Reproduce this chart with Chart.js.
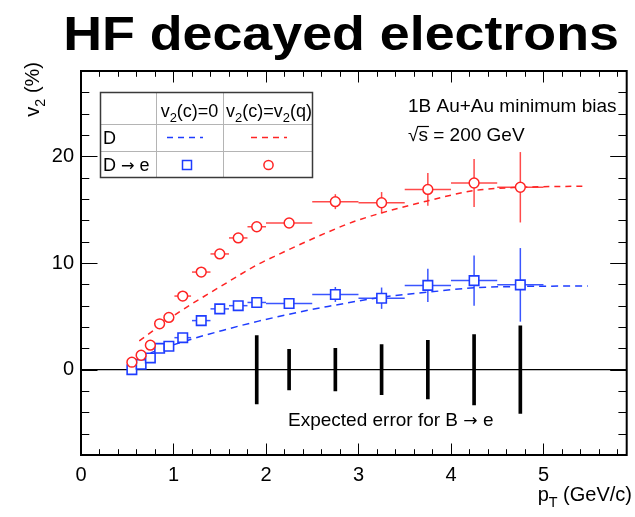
<!DOCTYPE html>
<html>
<head>
<meta charset="utf-8">
<script src="https://cdn.jsdelivr.net/npm/chart.js@4/dist/chart.umd.min.js"></script>
<style>
  html, body { margin: 0; padding: 0; background: #fff; }
  canvas { display: block; }
</style>
</head>
<body>
<canvas id="grafico" width="635" height="517"></canvas>
<script>
// pT bins (GeV/c) and their half widths
const ptPoints = [0.55, 0.65, 0.75, 0.85, 0.95, 1.1, 1.3, 1.5, 1.7, 1.9, 2.25, 2.75, 3.25, 3.75, 4.25, 4.75];
const ptErr = [0.05, 0.05, 0.05, 0.05, 0.05, 0.09, 0.1, 0.1, 0.1, 0.1, 0.25, 0.25, 0.25, 0.25, 0.25, 0.25];

// D -> e, v2(c)=0  (%)
const v2Zero = [0.0, 0.5, 1.1, 2.0, 2.2, 3.0, 4.6, 5.7, 6.0, 6.3, 6.2, 7.05, 6.7, 7.9, 8.35, 7.95];
const v2ZeroErr = [0.2, 0.2, 0.2, 0.2, 0.2, 0.2, 0.3, 0.3, 0.3, 0.35, 0.4, 0.7, 1.0, 1.55, 2.35, 3.45];

// D -> e, v2(c)=v2(q)  (%)
const v2Quark = [0.7, 1.35, 2.3, 4.3, 4.9, 6.9, 9.15, 10.85, 12.35, 13.4, 13.75, 15.75, 15.65, 16.9, 17.5, 17.1];
const v2QuarkErr = [0.2, 0.2, 0.2, 0.2, 0.2, 0.2, 0.3, 0.3, 0.3, 0.35, 0.4, 0.7, 1.0, 1.53, 2.26, 3.3];

// D curves (dashed)
const curveZeroX = [0.63, 1.06, 1.53, 1.92, 2.47, 2.67, 3.26, 3.76, 4.26, 4.76, 5.48];
const curveZeroY = [1.2, 2.5, 3.68, 4.55, 5.6, 5.93, 6.8, 7.27, 7.68, 7.8, 7.85];
const curveQuarkX = [0.63, 1.06, 1.28, 1.49, 1.92, 2.135, 2.67, 2.99, 3.76, 4.26, 4.76, 5.46];
const curveQuarkY = [2.7, 5.4, 6.6, 7.7, 9.9, 10.8, 12.9, 14.0, 15.85, 16.8, 17.1, 17.2];

// Expected error for B -> e (half size, around 0)
const bErrX = [1.9, 2.25, 2.75, 3.25, 3.75, 4.25, 4.75];
const bErrY = [3.2, 1.9, 2.0, 2.35, 2.75, 3.3, 4.1];

const xTicks = [0, 1, 2, 3, 4, 5];
const yTicks = [0, 10, 20];

const FONT = '"Liberation Sans", Arial, Helvetica, sans-serif';
const ARROW_FONT = '"DejaVu Sans", sans-serif';
const BLUE = '#1e3cff';
const RED = '#ff2424';

// text with subscripts: parts = [[text, isSub, font?], ...]
function richText(ctx, parts, x, y, size, align) {
    const fontOf = p => (p[1] ? size * 0.72 : (p[2] ? size * 0.9 : size)) + 'px ' + (p[2] || FONT);
    const widths = parts.map(p => {
        ctx.font = fontOf(p);
        return ctx.measureText(p[0]).width;
    });
    const total = widths.reduce((a, b) => a + b, 0);
    let cx = align === 'center' ? x - total / 2 : (align === 'right' ? x - total : x);
    ctx.textAlign = 'left';
    ctx.textBaseline = 'alphabetic';
    parts.forEach((p, i) => {
        ctx.font = fontOf(p);
        ctx.fillText(p[0], cx, p[1] ? y + size * 0.28 : y);
        cx += widths[i];
    });
}

function line(ctx, x0, y0, x1, y1) {
    ctx.beginPath();
    ctx.moveTo(x0, y0);
    ctx.lineTo(x1, y1);
    ctx.stroke();
}

const errorBars = {
    id: 'errorBars',
    beforeDatasetsDraw(chart) {
        const ctx = chart.ctx;
        const xs = chart.scales.x;
        const ys = chart.scales.y;
        ctx.save();
        // zero line
        ctx.strokeStyle = '#000';
        ctx.lineWidth = 1.2;
        line(ctx, chart.chartArea.left, ys.getPixelForValue(0), chart.chartArea.right, ys.getPixelForValue(0));
        chart.data.datasets.forEach(ds => {
            if (!ds.errY) return;
            ctx.strokeStyle = ds.errColor;
            ctx.lineWidth = 1.5;
            ds.data.forEach((p, i) => {
                const px = xs.getPixelForValue(p.x);
                const py = ys.getPixelForValue(p.y);
                line(ctx, xs.getPixelForValue(p.x - ds.errX[i]), py, xs.getPixelForValue(p.x + ds.errX[i]), py);
                line(ctx, px, ys.getPixelForValue(p.y - ds.errY[i]), px, ys.getPixelForValue(p.y + ds.errY[i]));
            });
        });
        ctx.restore();
    }
};

const decorations = {
    id: 'decorations',
    afterDraw(chart) {
        const ctx = chart.ctx;
        const xs = chart.scales.x;
        const ys = chart.scales.y;
        const { left, right, top, bottom } = chart.chartArea;
        ctx.save();

        // ticks on all four sides, pointing inwards
        ctx.strokeStyle = '#000';
        ctx.lineWidth = 1;
        for (let i = 0; i <= 29; i++) {
            const px = Math.round(xs.getPixelForValue(i * 0.2)) + 0.5;
            const len = i % 5 === 0 ? 11.5 : 5.8;
            line(ctx, px, bottom, px, bottom - len);
            line(ctx, px, top, px, top + len);
        }
        for (let v = -8; v <= 28; v += 2) {
            const py = Math.round(ys.getPixelForValue(v)) + 0.5;
            const len = v % 10 === 0 ? 16.5 : 8.3;
            line(ctx, left, py, left + len, py);
            line(ctx, right, py, right - len, py);
        }
        ctx.lineWidth = 2;
        ctx.strokeRect(left, top, right - left, bottom - top);

        ctx.fillStyle = '#000';
        // title
        ctx.save();
        ctx.font = 'bold 48px ' + FONT;
        ctx.textAlign = 'center';
        ctx.textBaseline = 'alphabetic';
        ctx.translate(341, 50);
        ctx.scale(1.12, 1);
        ctx.fillText('HF decayed electrons', 0, 0);
        ctx.restore();

        // axis titles
        richText(ctx, [['p', false], ['T', true], [' (GeV/c)', false]], 632, 501, 20, 'right');
        ctx.save();
        ctx.translate(39, 62);
        ctx.rotate(-Math.PI / 2);
        richText(ctx, [['v', false], ['2', true], [' (%)', false]], 0, 0, 20, 'right');
        ctx.restore();

        // labels inside the frame
        richText(ctx, [['1B Au+Au minimum bias', false]], 408, 112, 19, 'left');
        ctx.font = '19px ' + FONT;
        ctx.textAlign = 'left';
        ctx.fillText('\u221A', 408, 141);
        const wr = ctx.measureText('\u221A').width;
        ctx.fillText('s = 200 GeV', 408 + wr, 141);
        const ws = ctx.measureText('s').width;
        ctx.lineWidth = 1.2;
        line(ctx, 408 + wr - 1, 126.5, 408 + wr + ws + 1, 126.5);
        richText(ctx, [['Expected error for B ', false], ['\u2192', false, ARROW_FONT], [' e', false]], 288, 426, 19, 'left');

        // legend table
        const L = 100, R = 313, T = 92, B = 178;
        const c1 = 156, c2 = 223, r1 = 124, r2 = 151;
        ctx.fillStyle = '#fff';
        ctx.fillRect(L, T, R - L, B - T);
        ctx.strokeStyle = '#b4b4b4';
        ctx.lineWidth = 1;
        line(ctx, c1 + 0.5, T, c1 + 0.5, B);
        line(ctx, c2 + 0.5, T, c2 + 0.5, B);
        line(ctx, L, r1 + 0.5, R, r1 + 0.5);
        line(ctx, L, r2 + 0.5, R, r2 + 0.5);
        ctx.strokeStyle = '#3a3a3a';
        ctx.lineWidth = 1.5;
        ctx.strokeRect(L + 0.5, T + 0.5, R - L - 1, B - T - 1);

        ctx.fillStyle = '#000';
        richText(ctx, [['v', false], ['2', true], ['(c)=0', false]], (c1 + c2) / 2, 117, 18, 'center');
        richText(ctx, [['v', false], ['2', true], ['(c)=v', false], ['2', true], ['(q)', false]], (c2 + R) / 2 + 1, 117, 18, 'center');
        richText(ctx, [['D', false]], 103, 144, 18, 'left');
        richText(ctx, [['D ', false], ['\u2192', false, ARROW_FONT], [' e', false]], 103, 171, 18, 'left');

        ctx.lineWidth = 1.5;
        ctx.setLineDash([6, 5]);
        ctx.strokeStyle = BLUE;
        line(ctx, 167, 137.5, 203, 137.5);
        ctx.strokeStyle = RED;
        line(ctx, 251, 137.5, 287, 137.5);
        ctx.setLineDash([]);
        ctx.strokeStyle = BLUE;
        ctx.strokeRect(182.5, 160.5, 9, 9);
        ctx.strokeStyle = RED;
        ctx.beginPath();
        ctx.arc(268.5, 165, 4.6, 0, Math.PI * 2);
        ctx.stroke();

        ctx.restore();
    }
};

const ctx = document.getElementById('grafico').getContext('2d');

const chart = new Chart(ctx, {
    type: 'scatter',
    data: {
        datasets: [
            {
                type: 'line',
                data: curveZeroX.map((x, i) => ({ x: x, y: curveZeroY[i] })),
                borderColor: BLUE,
                borderWidth: 1.5,
                borderDash: [7, 5],
                pointRadius: 0,
                fill: false,
                cubicInterpolationMode: 'monotone',
                order: 5
            },
            {
                type: 'line',
                data: curveQuarkX.map((x, i) => ({ x: x, y: curveQuarkY[i] })),
                borderColor: RED,
                borderWidth: 1.5,
                borderDash: [6, 5],
                pointRadius: 0,
                fill: false,
                cubicInterpolationMode: 'monotone',
                order: 6
            },
            {
                type: 'bar',
                data: bErrX.map((x, i) => ({ x: x, y: [-bErrY[i], bErrY[i]] })),
                backgroundColor: '#000',
                borderWidth: 0,
                barThickness: 3,
                order: 4
            },
            {
                data: ptPoints.map((x, i) => ({ x: x, y: v2Zero[i] })),
                pointStyle: 'rect',
                pointRadius: 6.7,
                pointHoverRadius: 6.7,
                pointBorderWidth: 1.6,
                pointBorderColor: BLUE,
                pointBackgroundColor: '#fff',
                borderColor: BLUE,
                errColor: '#3a55ff',
                errX: ptErr,
                errY: v2ZeroErr,
                order: 2
            },
            {
                data: ptPoints.map((x, i) => ({ x: x, y: v2Quark[i] })),
                pointStyle: 'circle',
                pointRadius: 4.9,
                pointHoverRadius: 4.9,
                pointBorderWidth: 1.5,
                pointBorderColor: RED,
                pointBackgroundColor: '#fff',
                borderColor: RED,
                errColor: '#ff4a4a',
                errX: ptErr,
                errY: v2QuarkErr,
                order: 1
            }
        ]
    },
    options: {
        responsive: false,
        animation: false,
        events: [],
        layout: {
            padding: { top: 71, right: 3, left: 0, bottom: 0 }
        },
        scales: {
            x: {
                type: 'linear',
                min: 0,
                max: 5.9,
                offset: false,
                grid: { display: false, drawTicks: false },
                border: { display: false },
                ticks: {
                    color: '#000',
                    font: { family: FONT, size: 20 },
                    padding: 8,
                    maxRotation: 0,
                    autoSkip: false
                },
                afterBuildTicks: s => { s.ticks = xTicks.map(v => ({ value: v })); },
                afterFit: s => { s.height = 62; }
            },
            y: {
                type: 'linear',
                min: -8,
                max: 28,
                grid: { display: false, drawTicks: false },
                border: { display: false },
                ticks: {
                    color: '#000',
                    font: { family: FONT, size: 20 },
                    padding: 7,
                    autoSkip: false
                },
                afterBuildTicks: s => { s.ticks = yTicks.map(v => ({ value: v })); },
                afterFit: s => { s.width = 81; }
            }
        },
        plugins: {
            legend: { display: false },
            tooltip: { enabled: false }
        }
    },
    plugins: [errorBars, decorations]
});
</script>
</body>
</html>
